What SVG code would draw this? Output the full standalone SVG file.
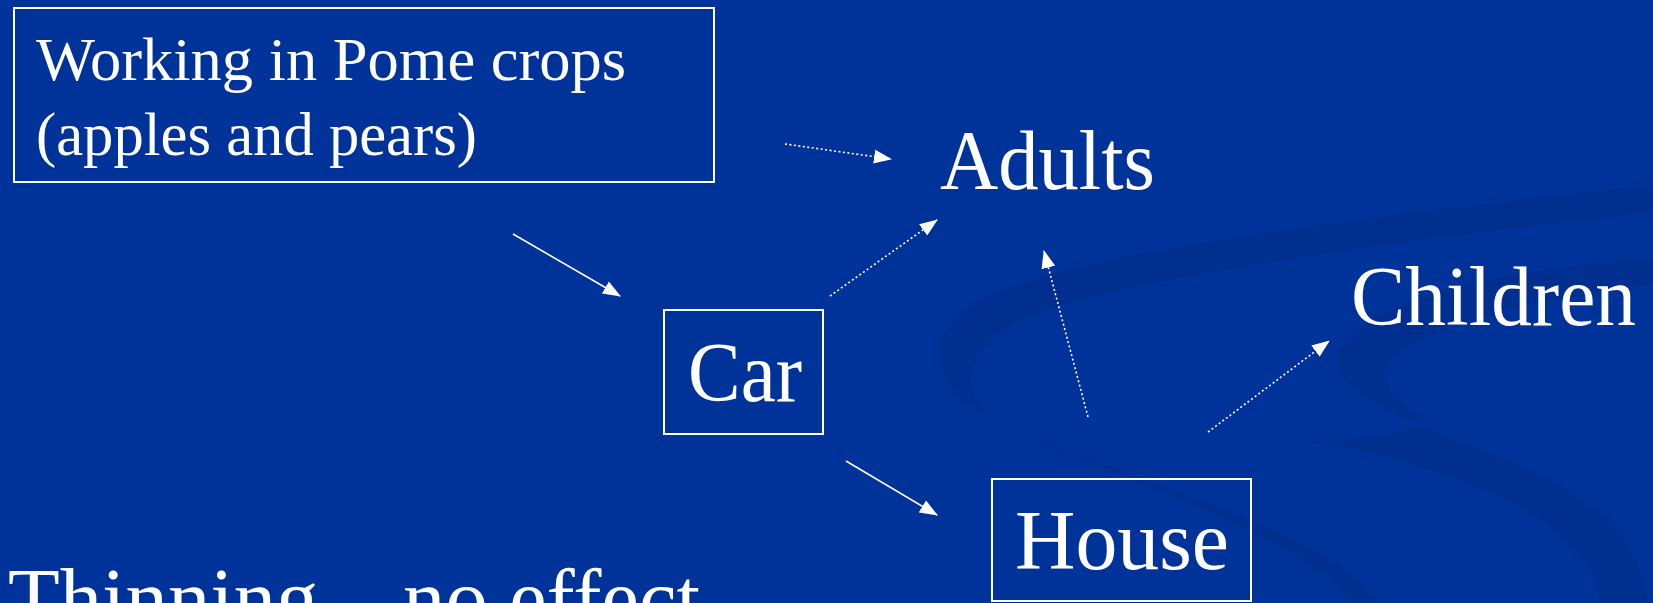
<svg xmlns="http://www.w3.org/2000/svg" width="1653" height="603" viewBox="0 0 1653 603">
<style>
.bg{fill:#003399}
.rib{fill:#002d8c;opacity:0.7}
.box{fill:none;stroke:#ffffff;stroke-width:2}
.t{fill:#ffffff;font-family:"Liberation Serif","DejaVu Serif",serif}
.big{font-size:85px}
.mid{font-size:62px}
.solid{stroke:#ffffff;stroke-width:1.6;fill:none}
.dot{stroke:#ffffff;stroke-width:1.6;fill:none;stroke-dasharray:2 2.5}
</style>
<defs>
<marker id="ah" markerUnits="userSpaceOnUse" markerWidth="18" markerHeight="14" viewBox="0 0 18 14" refX="17" refY="7" orient="auto">
<path d="M0,0 L18,7 L0,14 Z" fill="#ffffff"/>
</marker>
</defs>
<rect class="bg" x="0" y="0" width="1653" height="603"/>
<g id="background-swirl">
<path class="rib" d="M1653,185 C1400,212 1120,245 1000,290 C925,318 920,380 985,415 C1090,470 1330,525 1375,603 L1352,603 C1310,540 1100,470 1005,425 C955,398 955,345 1040,312 C1150,275 1400,240 1653,212 Z"/>
<path class="rib" d="M1653,258 C1500,270 1365,300 1340,350 C1322,392 1420,425 1470,445 C1560,480 1640,520 1648,603 L1600,603 C1595,540 1520,500 1430,470 C1370,450 1320,440 1300,443 C1360,440 1440,430 1420,415 C1385,395 1372,370 1400,352 C1450,320 1560,295 1653,285 Z"/>
</g>
<g id="node-pome">
<rect class="box" x="14" y="8" width="700" height="174"/>
<text class="t mid" x="36" y="80" textLength="590" lengthAdjust="spacingAndGlyphs">Working in Pome crops</text>
<text class="t mid" x="36" y="155" textLength="441" lengthAdjust="spacingAndGlyphs">(apples and pears)</text>
</g>
<g id="node-adults">
<text class="t big" x="940" y="189" textLength="215" lengthAdjust="spacingAndGlyphs">Adults</text>
</g>
<g id="node-car">
<rect class="box" x="664" y="310" width="159" height="124"/>
<text class="t big" x="688" y="401" textLength="114" lengthAdjust="spacingAndGlyphs">Car</text>
</g>
<g id="node-children">
<text class="t big" x="1351" y="325" textLength="285" lengthAdjust="spacingAndGlyphs">Children</text>
</g>
<g id="node-house">
<rect class="box" x="992" y="479" width="259" height="122"/>
<text class="t big" x="1015" y="569" textLength="214" lengthAdjust="spacingAndGlyphs">House</text>
</g>
<g id="node-thinning">
<text class="t big" x="8" y="627" textLength="692" lengthAdjust="spacingAndGlyphs">Thinning – no effect</text>
</g>
<g id="connectors">
<line class="solid" x1="513" y1="234" x2="620" y2="296" marker-end="url(#ah)"/>
<line class="dot" x1="830" y1="296" x2="937" y2="220" marker-end="url(#ah)"/>
<line class="solid" x1="846" y1="461" x2="937" y2="515" marker-end="url(#ah)"/>
<line class="dot" x1="785" y1="144" x2="891" y2="159" marker-end="url(#ah)"/>
<line class="dot" x1="1088" y1="417" x2="1044" y2="251" marker-end="url(#ah)"/>
<line class="dot" x1="1208" y1="432" x2="1329" y2="341" marker-end="url(#ah)"/>
</g>
</svg>
